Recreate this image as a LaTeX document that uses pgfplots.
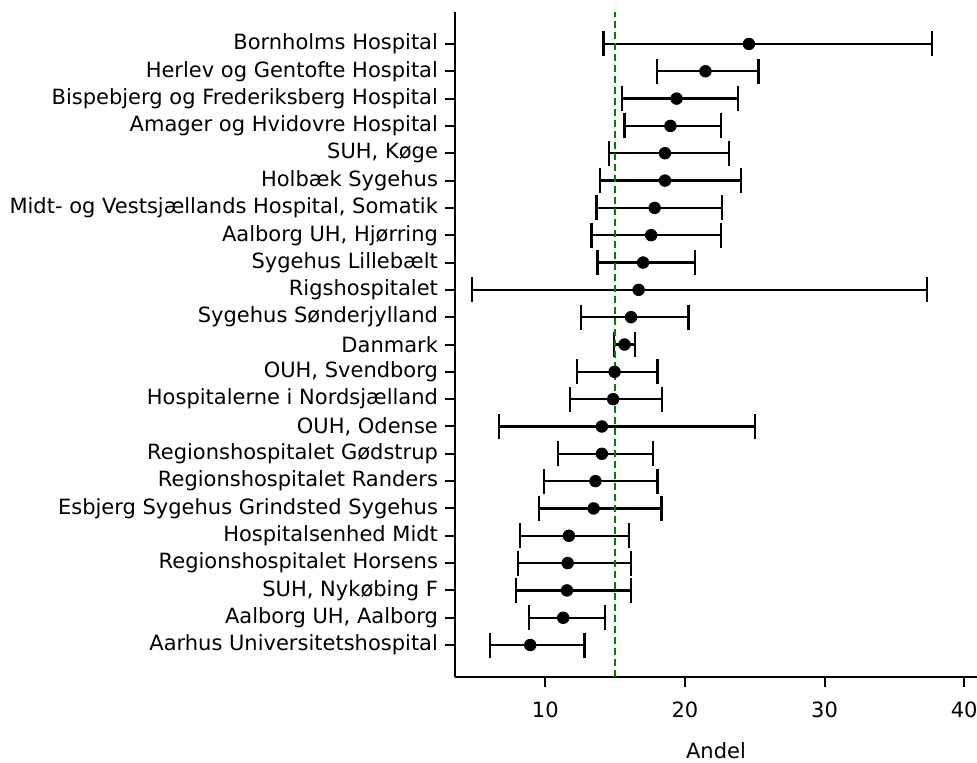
\documentclass[border=0pt]{standalone}
\usepackage{fontspec}
\setmainfont{DejaVu Sans}
\usepackage{pgfplots}
\usepackage{pgfplotstable}
\pgfplotsset{compat=1.18}

% y = row (0 = bottom), val = Andel, lo/hi = interval ends
\pgfplotstableread{
y val lo hi
0 8.92 6.02 12.80
1 11.28 8.85 14.25
2 11.55 7.92 16.14
3 11.60 8.06 16.11
4 11.69 8.21 16.02
5 13.46 9.54 18.32
6 13.59 9.90 18.03
7 14.05 10.91 17.73
8 14.05 6.69 25.00
9 14.86 11.79 18.37
10 14.96 12.26 18.03
11 15.67 14.89 16.43
12 16.14 12.53 20.26
13 16.68 4.77 37.32
14 17.00 13.73 20.73
15 17.58 13.31 22.59
16 17.83 13.66 22.67
17 18.57 13.90 24.04
18 18.57 14.54 23.18
19 18.96 15.67 22.59
20 19.40 15.48 23.82
21 21.47 18.00 25.27
22 24.58 14.17 37.72
}\andel

\begin{document}
\begin{tikzpicture}
\begin{axis}[
    scale only axis,
    width=261pt, height=332.8pt,
    xmin=3.53, xmax=40.92,
    ymin=-1.18, ymax=23.18,
    axis x line*=bottom, axis y line*=left,
    axis line style={-, line width=1pt},
    tick align=outside,
    major tick length=5pt,
    tick style={line width=1pt, black},
    xtick={10,20,30,40},
    ytick={0,...,22},
    yticklabels={Aarhus Universitetshospital, {Aalborg UH, Aalborg}, {SUH, Nykøbing F},
        Regionshospitalet Horsens, Hospitalsenhed Midt, Esbjerg Sygehus Grindsted Sygehus,
        Regionshospitalet Randers, Regionshospitalet Gødstrup, {OUH, Odense},
        Hospitalerne i Nordsjælland, {OUH, Svendborg}, Danmark, Sygehus Sønderjylland,
        Rigshospitalet, Sygehus Lillebælt, {Aalborg UH, Hjørring},
        {Midt- og Vestsjællands Hospital, Somatik}, Holbæk Sygehus, {SUH, Køge},
        Amager og Hvidovre Hospital, Bispebjerg og Frederiksberg Hospital,
        Herlev og Gentofte Hospital, Bornholms Hospital},
    /pgf/number format/assume math mode=true,
    tick label style={font=\fontsize{10.5}{12}\selectfont},
    xticklabel style={yshift=-4pt},
    xlabel={Andel},
    xlabel style={font=\fontsize{10.5}{12}\selectfont, at={(axis description cs:0.5,0)},
        anchor=north, yshift=-29pt},
    clip=false,
]
\addplot[only marks, mark=*, mark size=2.9pt, black,
    error bars/.cd, x dir=both, x explicit,
    error bar style={line width=1.1pt},
    error mark options={rotate=90, line width=1.1pt, mark size=6.25pt}]
    table[x=val, y=y,
      x error plus expr=\thisrow{hi}-\thisrow{val},
      x error minus expr=\thisrow{val}-\thisrow{lo}] {\andel};
\addplot[green!50!black, line width=1.1pt, dash pattern=on 3.8pt off 1.7pt]
    coordinates {(15,-1.18) (15,23.18)};
\coordinate (SW) at (rel axis cs:0,0);
\end{axis}
\pgfresetboundingbox
\path[use as bounding box] ([shift={(-227.5pt,-42.35pt)}]SW) rectangle ([shift={(261pt,338.65pt)}]SW);
\end{tikzpicture}
\end{document}
